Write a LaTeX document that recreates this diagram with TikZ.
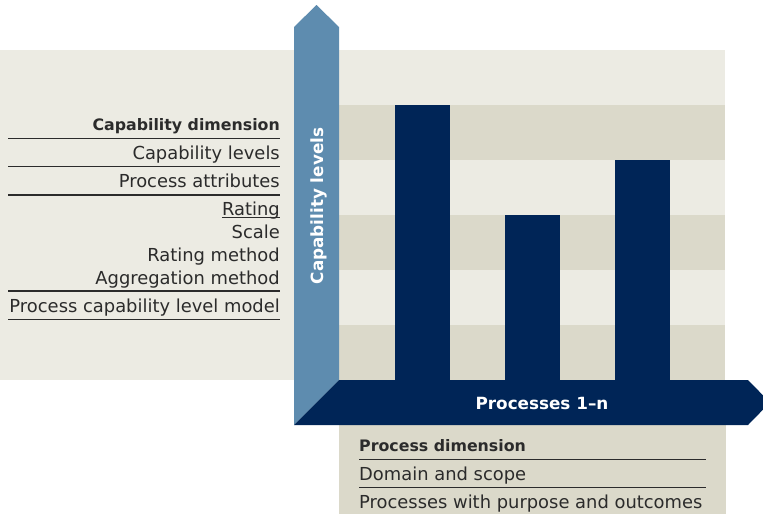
\documentclass[tikz,border=0pt]{standalone}
\usepackage{fontspec}
\setmainfont{DejaVu Sans}
\usetikzlibrary{positioning}

\definecolor{paper}{HTML}{ECEBE3}
\definecolor{stripe}{HTML}{DBD9CA}
\definecolor{steel}{HTML}{5E8CAF}
\definecolor{navy}{HTML}{002557}
\definecolor{ink}{HTML}{2B2B2B}

\begin{document}
\begin{tikzpicture}[x=1pt,y=-1pt,
    item/.style={inner sep=0pt, text=ink, font=\fontsize{17.9}{20}\selectfont},
    head/.style={inner sep=0pt, text=ink, font=\fontsize{15.8}{18}\bfseries},
    axis/.style={inner sep=0pt, text=white, font=\fontsize{16.8}{19}\bfseries},
    rule/.style={draw=ink, line width=1.4pt}]

    \useasboundingbox (0,0) rectangle (763,514);
    \clip (0,0) rectangle (763,514);

    %define the background and the level stripes
    \fill[paper] (0,50) rectangle (725,380);
    \foreach \y in {105,215,325}
        \fill[stripe] (339,\y) rectangle (725,\y+55);
    \fill[stripe] (339,425) rectangle (726,514);

    % define the bars
    \fill[navy] (395,105) rectangle (450,380);
    \fill[navy] (505,215) rectangle (560,380);
    \fill[navy] (615,160) rectangle (670,380);

    % define the two axes
    \fill[steel] (294,425) -- (294,27) -- (316.5,5) -- (339,27) -- (339,380) -- cycle;
    \fill[navy] (294,425) -- (339,380) -- (748,380) -- (770,402.5) -- (748,425) -- cycle;
    \node[axis, rotate=90, anchor=base] (caplev) at (323,206) {Capability levels};
    \node[axis, anchor=base] (procs) at (542,409.5) {Processes 1–n};

    % capability dimension
    \node[head, anchor=base east] (capdim) at (280,130) {Capability dimension};
    \node[item, anchor=base east] (levels) at (280,159) {Capability levels};
    \node[item, anchor=base east] (attrs) at (280,187.5) {Process attributes};
    \node[item, anchor=base east] (rating) at (280,215) {Rating};
    \node[item, anchor=base east] (scale) at (280,238) {Scale};
    \node[item, anchor=base east] (method) at (280,261.5) {Rating method};
    \node[item, anchor=base east] (aggr) at (280,284.5) {Aggregation method};
    \node[item, anchor=base east] (model) at (280,312.5) {Process capability level model};
    \foreach \y in {138.5,166.5,195,291,319.5}
        \draw[rule] (8,\y) -- (280,\y);
    \draw[draw=ink, line width=1pt] ([yshift=-2.5pt]rating.base west) -- ([yshift=-2.5pt]rating.base east);

    % process dimension
    \node[head, anchor=base west] (procdim) at (359,451.7) {Process dimension};
    \node[item, anchor=base west] (domain) at (359,480.7) {Domain and scope};
    \node[item, anchor=base west] (purpose) at (359,508.3) {Processes with purpose and outcomes};
    \foreach \y in {459.5,487.5}
        \draw[rule] (359,\y) -- (706,\y);
\end{tikzpicture}
\end{document}
